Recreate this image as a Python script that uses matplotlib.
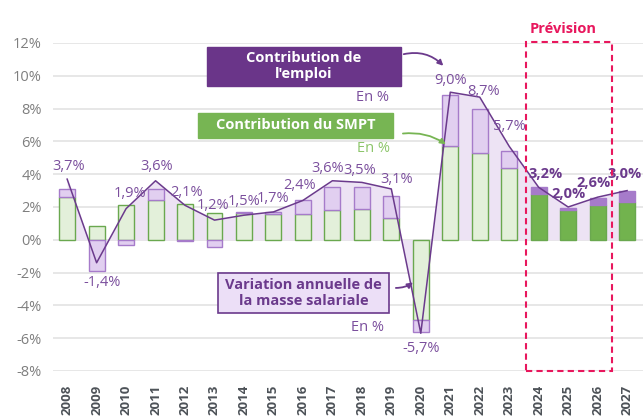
import matplotlib.pyplot as plt
from matplotlib.patches import Rectangle
import numpy as np

plt.rcParams['font.family'] = ['Open Sans', 'DejaVu Sans']

# Données
annees = list(range(2008, 2028))
smpt = [2.6, 0.85, 2.1, 2.4, 2.2, 1.65, 1.65, 1.6, 1.6, 1.8, 1.9, 1.3,
        -4.9, 5.7, 5.3, 4.4, 2.8, 1.8, 2.1, 2.3]
emploi = [0.5, -1.9, -0.3, 0.7, -0.05, -0.45, 0.05, 0.1, 0.8, 1.4, 1.3, 1.4,
          -0.7, 3.1, 2.7, 1.0, 0.4, 0.15, 0.45, 0.7]
masse = [3.7, -1.4, 1.9, 3.6, 2.1, 1.2, 1.5, 1.7, 2.4, 3.6, 3.5, 3.1,
         -5.7, 9.0, 8.7, 5.7, 3.2, 2.0, 2.6, 3.0]
etiquettes = ["3,7%", "-1,4%", "1,9%", "3,6%", "2,1%", "1,2%", "1,5%", "1,7%",
              "2,4%", "3,6%", "3,5%", "3,1%", "-5,7%", "9,0%", "8,7%", "5,7%",
              "3,2%", "2,0%", "2,6%", "3,0%"]
debut_prevision = 2024

# décalage des étiquettes (pixels)
decalages = [(1, 13), (5, -20), (4, 15), (1, 14), (2, 13), (-2, 15), (0, 14),
             (0, 13), (-3, 15), (-5, 12), (-2, 12), (5, 9), (0, -15), (0, 12),
             (4, 6), (0, 20), (7, 13), (0, 13), (-4, 14), (-2, 17)]

violet = "#6b3a8c"
violet_txt = "#7b4f9d"
vert = "#72b34e"

fig = plt.figure(figsize=(6.43, 4.18), dpi=100)
ax = fig.add_axes([53 / 643, 1 - 371 / 418, 590 / 643, 328 / 418])

x = np.array(annees)
# zone sous la courbe
ax.fill_between(x, 0, masse, color="#ede3f4", zorder=1, lw=0)

for i, a in enumerate(annees):
    prev = a >= debut_prevision
    g_fc = vert if prev else "#e3f0da"
    p_fc = "#a67bca" if prev else "#e1cff0"
    ax.bar(a, smpt[i], width=0.54, color=g_fc, edgecolor="#6aa84f", lw=1, zorder=2)
    bas = smpt[i] if np.sign(smpt[i]) == np.sign(emploi[i]) else 0
    ax.bar(a, emploi[i], bottom=bas, width=0.54, color=p_fc, edgecolor="#a67bca",
           lw=1, zorder=2)

ax.plot(x, masse, color=violet, lw=1.1, zorder=3)

for i, a in enumerate(annees):
    prev = a >= debut_prevision
    dx, dy = decalages[i]
    ax.annotate(etiquettes[i], (a, masse[i]), xytext=(dx, dy), textcoords="offset pixels",
                ha="center", va="center", fontsize=10.5, color=violet_txt if not prev else violet,
                fontweight="bold" if prev else "normal", zorder=5, annotation_clip=False)

ax.set_xlim(2007.52, 2027.54)
ax.set_ylim(-8, 12)
ax.set_yticks(range(-8, 13, 2))
ax.set_yticklabels([f"{v}%" for v in range(-8, 13, 2)], color="#7f7f7f", fontsize=10.5)
ax.set_xticks(annees)
ax.set_xticklabels([str(a) for a in annees], rotation=90, fontsize=9.5,
                   fontweight="bold", color="#4d5258")
ax.tick_params(length=0, axis="x", pad=10)
ax.tick_params(length=0, axis="y", pad=8)
ax.grid(axis="y", color="#e3e3e3", lw=1.2, zorder=0)
ax.set_axisbelow(True)
for s in ax.spines.values():
    s.set_visible(False)

# zone prévision
ax.add_patch(Rectangle((2023.58, -7.99), 2.91, 20.06, fill=False, ec="#e8175d",
                       lw=1.5, ls=(0, (3, 2)), zorder=6, clip_on=False))
ax.text(2024.83, 12.87, "Prévision", ha="center", va="center", fontsize=10.5,
        fontweight="bold", color="#e8175d")

# encadrés de légende
ax.add_patch(Rectangle((2012.75, 9.39), 6.58, 2.38, color="#6a3589", zorder=6, clip_on=False))
ax.text(2016.04, 10.58, "Contribution de\nl'emploi", ha="center", va="center",
        fontsize=10.5, fontweight="bold", color="white", zorder=7, linespacing=1.2)
ax.text(2018.35, 8.66, "En %", ha="center", va="center", fontsize=10.5, color=violet_txt)
ax.annotate("", xy=(2020.83, 10.49), xytext=(2019.33, 11.28),
            arrowprops=dict(arrowstyle="-|>", color=violet, lw=1.3,
                            connectionstyle="arc3,rad=-0.3", mutation_scale=8), zorder=7)

ax.add_patch(Rectangle((2012.45, 6.22), 6.61, 1.52, color="#77b553", zorder=6, clip_on=False))
ax.text(2015.75, 6.98, "Contribution du SMPT", ha="center", va="center",
        fontsize=10.5, fontweight="bold", color="white", zorder=7)
ax.text(2018.38, 5.55, "En %", ha="center", va="center", fontsize=10.5, color="#8cc56a")
ax.annotate("", xy=(2020.93, 5.73), xytext=(2019.3, 6.46),
            arrowprops=dict(arrowstyle="-|>", color="#77b553", lw=1.3,
                            connectionstyle="arc3,rad=-0.2", mutation_scale=8), zorder=7)

ax.add_patch(Rectangle((2013.12, -4.45), 5.81, 2.44, fc="#ecdff7", ec=violet, lw=1.2,
                       zorder=6, clip_on=False))
ax.text(2016.03, -3.23, "Variation annuelle de\nla masse salariale", ha="center", va="center",
        fontsize=10.5, fontweight="bold", color=violet, zorder=7, linespacing=1.2)
ax.text(2018.18, -5.37, "En %", ha="center", va="center", fontsize=10.5, color=violet_txt)
ax.annotate("", xy=(2019.81, -2.5), xytext=(2019.06, -2.93),
            arrowprops=dict(arrowstyle="-|>", color=violet, lw=1.3,
                            connectionstyle="arc3,rad=0.2", mutation_scale=8), zorder=7)

fig.savefig("out.png", dpi=100)
